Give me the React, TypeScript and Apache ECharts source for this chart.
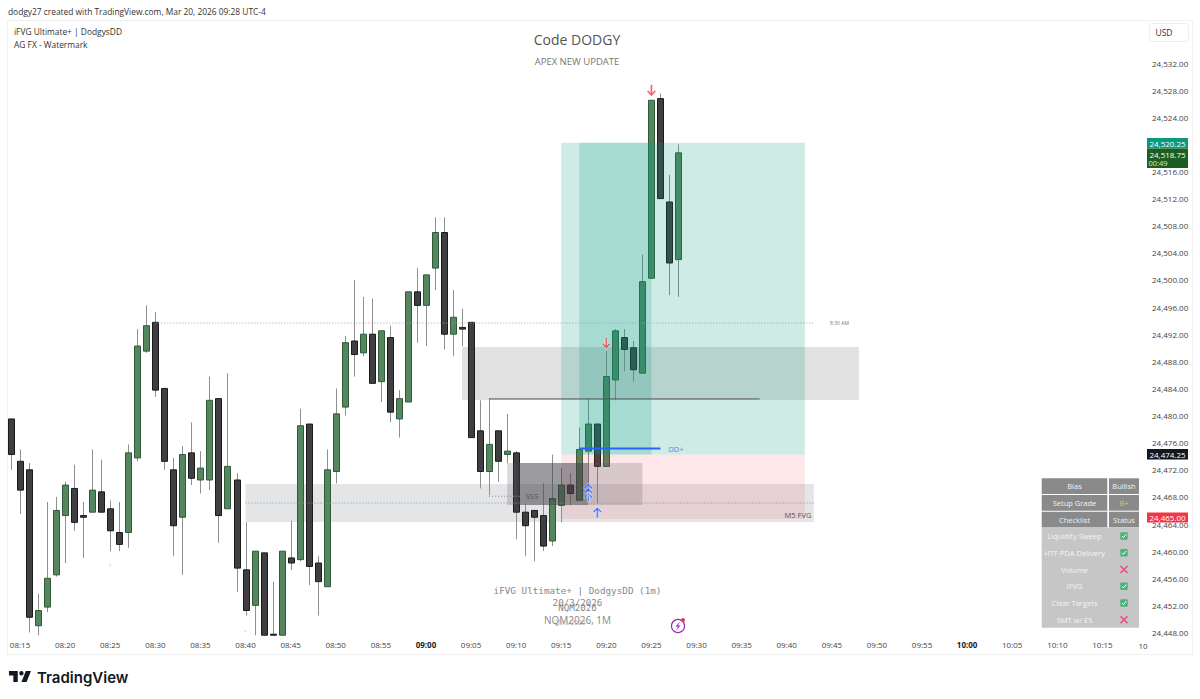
import React, { useEffect, useRef } from "react";
import * as echarts from "echarts";

// ---- candles (index 0 = 08:14, one per minute) ----
const opens = [24479.5,24473.25,24472,24449,24451.75,24456.5,24465.25,24469.25,24465.25,24465.75,24468.75,24466.25,24462.75,24462.75,24473.75,24489.5,24493.75,24484,24472,24465,24474.5,24470.5,24470.5,24482.5,24466.25,24470.5,24457.25,24452,24459.75,24447.75,24447.6,24459,24458.75,24478.75,24458.25,24454.75,24471.75,24481.25,24491,24489.25,24492,24485,24491.5,24479.5,24482,24498.25,24496.25,24501.75,24507,24492,24493,24493.75,24477.75,24471.75,24477.75,24474.25,24474.5,24465.75,24466,24465.25,24461.5,24466.75,24469.75,24467.5,24474.75,24478.75,24472.5,24485.25,24491.5,24490,24486.25,24500.25,24526.75,24511.5,24503];
const closes = [24474.25,24469,24450.25,24451.25,24456,24466,24469.75,24464.25,24465,24469,24465.75,24463,24461,24474.5,24490.25,24493.25,24483.75,24473.25,24463.75,24474.25,24470.75,24472.25,24482.25,24465.25,24472.5,24457.5,24451.25,24460,24447.6,24447.6,24460,24458.25,24478.5,24457.75,24455.5,24472,24480.25,24490.75,24489,24492,24484.75,24492.5,24480.5,24482.5,24498.25,24496.25,24500.75,24507,24492,24494.5,24492.75,24476.75,24471.75,24475.75,24473.25,24474.75,24465.75,24463.75,24465,24460.75,24467.75,24469.75,24468.5,24475,24478.75,24472.5,24485.75,24492.5,24489.75,24486.75,24499.75,24526.5,24512,24502.5,24518.75];
const highs = [24479.5,24475,24473,24453.75,24467.25,24468,24470.25,24472.75,24467.25,24475,24473.5,24467.5,24467.25,24475.75,24492.75,24496.25,24495.25,24484,24473.75,24475.5,24479,24474.75,24485.75,24482.5,24486.25,24471.5,24464.25,24460,24459.75,24455.5,24460,24464.5,24481,24478.75,24459.25,24475,24484,24491.75,24500,24497.5,24497.25,24492.5,24493.25,24483.75,24498.25,24501.75,24500.75,24509.25,24509.25,24498.5,24495.75,24493.75,24482.25,24482.5,24477.75,24480.25,24474.75,24467,24466,24470,24474.25,24472.25,24471.5,24478.25,24482.5,24478.75,24489.5,24492.75,24492.75,24491,24503.75,24526.5,24527.5,24515.5,24520];
const lows = [24472,24465.5,24448,24447.6,24451,24456.25,24458.25,24463,24459,24465.75,24465.75,24460,24460,24460.5,24473.25,24489.25,24482.75,24472,24459.25,24456.5,24469.75,24468.5,24469,24461.25,24466.25,24454,24450.5,24447.6,24447.6,24447.6,24447.6,24457.25,24458.5,24455,24450.5,24454.75,24470,24480,24485.75,24488.75,24484.75,24482,24479,24476.75,24482,24490.75,24490.25,24498.5,24489.75,24488.75,24490.25,24476.75,24469.25,24468.25,24470.25,24473,24461.75,24459.25,24458.5,24460,24460.75,24464.25,24466.75,24467.5,24469,24467,24472.5,24482.25,24486.5,24485,24486.25,24500.25,24512,24497.75,24497.5];

// ---- shaded zones: [first bar, last bar, top price, bottom price] ----
const grayBands = [
  [26, 89, 24469.9, 24464.3],
  [50, 94, 24490.1, 24482.3],
];
const positionZones = [
  [61, 88, 24520.25, 24474.25],
  [63, 71, 24520.25, 24474.25],
  [61, 88, 24474.25, 24464.75],
  [55, 70, 24473, 24466.8],
  [56, 64, 24473, 24466.8],
];
const positionColors = [
  "rgba(8,153,129,0.2)",
  "rgba(8,153,129,0.2)",
  "rgba(242,54,69,0.12)",
  "rgba(90,90,100,0.22)",
  "rgba(50,50,60,0.38)",
];

// ---- levels ----
const levelDotted830 = [[16, 24493.65], [89, 24493.65]];
const levelDottedFvg = [[26, 24467.1], [89, 24467.1]];
const levelSweep = [[53, 24468.1], [58, 24468.1]];
const levelSolid = [[53, 24482.45], [83, 24482.45]];
const levelDD = [[63, 24475.15], [72, 24475.15]];

// ---- arrows: [bar, price] ----
const redArrows = [[71, 24527.95], [66, 24490.7]];
const blueArrows = [[65, 24465.7]];
const tripleArrows = [[64, 24468.65]];
const yellowDots = [[11, 24457.9], [26, 24448.2]];

// ---- axis labels and tags ----
const startMinute = 8 * 60 + 14;
const barCount = 126;
const timeLabels = Array.from({ length: barCount }, (_, i) => {
  const m = startMinute + i;
  return String(Math.floor(m / 60)).padStart(2, "0") + ":" + String(m % 60).padStart(2, "0");
});
const boldTimes = ["09:00", "10:00"];
const hiddenPrices = [24536, 24540, 24520];

// ---- checklist table ----
const headerRows = [["Bias", "Bullish"], ["Setup Grade", "B+"], ["Checklist", "Status"]];
const checkLabels = ["Liquidity Sweep", "HTF PDA Delivery", "Volume", "IFVG", "Clear Targets", "SMT w/ ES"];
const checkPassed = [true, true, false, true, true, false];

const logoPath = "M14 6H2v6h6v9h6V6zm12 15h-7l6-15h7l-6 15zm-7-9a3 3 0 1 0 0-6 3 3 0 0 0 0 6z";
echarts.graphic.registerShape("tvlogo", echarts.graphic.extendPath(logoPath, {}));

const FONT = '"Open Sans", sans-serif';
const MONO = '"DejaVu Sans Mono", monospace';
const DOWN_ARROW = "path://M3.8 0 H6.2 V8.4 L8.8 5.8 L10.2 7.3 L5 12.4 L-0.2 7.3 L1.2 5.8 L3.8 8.4 Z";
const TRIPLE_ARROW = "path://M5 0 L10 4.6 L8.8 6 L5 2.6 L1.2 6 L0 4.6 Z M5 4.4 L10 9 L8.8 10.4 L6 7.9 V18 H4 V7.9 L1.2 10.4 L0 9 Z M5 8.8 L10 13.4 L8.8 14.8 L6 12.3 V12 H4 V12.3 L1.2 14.8 L0 13.4 Z";

const PPX = 6.78;
const priceY = (p: number) => 63 + (24532 - p) * PPX;
const GRID_LEFT = 6.5;
const BAR = 9.02;
const GRID_TOP = priceY(24540);
const GRID_H = priceY(24448) - GRID_TOP;

function text(x: number, y: number, t: string, size: number, fill: string, align = "center", extra: any = {}) {
  return {
    type: "text", x, y, z: 50,
    style: { text: t, fontSize: size, fill, align, verticalAlign: "middle", fontFamily: FONT, ...extra },
  };
}
function box(x: number, y: number, w: number, h: number, fill: string, z = 40) {
  return { type: "rect", x, y, z, shape: { x: 0, y: 0, width: w, height: h }, style: { fill } };
}

function zoneSeries(rows: number[][], colors: string[], z: number) {
  return {
    type: "custom", z, silent: true,
    data: rows,
    encode: { x: [0, 1], y: [2, 3] },
    renderItem: (params: any, api: any) => {
      const a = api.coord([api.value(0), api.value(2)]);
      const b = api.coord([api.value(1), api.value(3)]);
      return {
        type: "rect",
        shape: { x: a[0], y: a[1], width: b[0] - a[0], height: b[1] - a[1] },
        style: { fill: colors[params.dataIndex] },
      };
    },
  };
}
function levelSeries(data: number[][], color: string, type: any, width = 1) {
  return {
    type: "line", z: 4, data, symbol: "none", silent: true,
    lineStyle: { color, type, width },
  };
}

export default function App() {
  const ref = useRef<HTMLDivElement>(null);
  useEffect(() => {
    const chart = echarts.init(ref.current!, null, { renderer: "svg" });
    const candleRows = opens.map((o, i) => [i, o, closes[i], lows[i], highs[i]]);

    const graphics: any[] = [
      { type: "rect", z: 0, x: 7.5, y: 20.5, shape: { x: 0, y: 0, width: 1185, height: 634 }, style: { fill: "none", stroke: "#f0f0f0", lineWidth: 1 } },
      text(8, 11, "dodgy27 created with TradingView.com, Mar 20, 2026 09:28 UTC-4", 8.4, "#333", "left"),
      text(14, 31, "iFVG Ultimate+ | DodgysDD", 8.4, "#333", "left"),
      text(14, 44, "AG FX - Watermark", 8.4, "#333", "left"),
      text(577, 39, "Code DODGY", 14, "#555", "center"),
      text(577, 61, "APEX NEW UPDATE", 9.5, "#777", "center"),
      text(577.5, 590, "iFVG Ultimate+ | DodgysDD (1m)", 9.3, "#888", "center", { fontFamily: MONO }),
      text(577.5, 602, "20/3/2026", 9.2, "#888", "center", { fontFamily: MONO }),
      text(577.5, 607, "NQM2026", 9.2, "#888", "center", { fontFamily: MONO }),
      text(577.5, 620, "NQM2026, 1M", 10, "#888", "center"),
      text(570, 622, "20/3/2026", 6.5, "#aaa", "center"),
      text(1143, 645, "10", 8, "#444", "center"),
      text(532, 495, "SSS", 8, "#555", "center"),
      text(798, 515, "M5 FVG", 7.5, "#555", "center"),
      text(839.5, 323, "8:30 AM", 5, "#777", "center"),
      text(676, 449, "DD+", 7.5, "#5b87e8", "center"),
      // USD box
      { type: "rect", z: 40, x: 1149.5, y: 23.5, shape: { x: 0, y: 0, width: 39, height: 18, r: 3 }, style: { fill: "#fff", stroke: "#eeeeee", lineWidth: 1 } },
      text(1164, 32.5, "USD", 8.5, "#333"),
      // price tags
      box(1147, 138, 41, 10.5, "#089981"),
      text(1167.5, 143.5, "24,520.25", 8, "#fff"),
      box(1147, 148.5, 41, 19.5, "#1b5e20"),
      text(1167.5, 154, "24,518.75", 8, "#fff"),
      text(1158, 163, "00:49", 7.5, "#d5e8d5"),
      box(1147, 449, 41, 10.5, "#131722"),
      text(1167.5, 454.5, "24,474.25", 8, "#fff"),
      box(1147, 512.5, 41, 10, "#f23645"),
      text(1167.5, 517.5, "24,465.00", 8, "#fff"),
      // footer logo
      { type: "tvlogo", z: 40, x: 7.5, y: 666.6, scaleX: 0.733, scaleY: 0.733, style: { fill: "#131722" } },
      text(37, 677, "TradingView", 15, "#131722", "left", { fontFamily: "Inter, sans-serif", fontWeight: 600 }),
      // bolt icon
      { type: "circle", z: 40, shape: { cx: 678, cy: 626, r: 6.5 }, style: { fill: "#fff", stroke: "#9c27b0", lineWidth: 1.2 } },
      { type: "polygon", z: 41, shape: { points: [[680, 621.5], [675.5, 626.5], [678, 626.5], [676, 630.5], [680.5, 625.5], [678, 625.5]] }, style: { fill: "#9c27b0" } },
      { type: "circle", z: 42, shape: { cx: 683, cy: 620, r: 2 }, style: { fill: "#f23645" } },
    ];

    // checklist table
    const colL = 1041.7, colLW = 65.6, colR = 1109, colRW = 30;
    const headY = [478.3, 495, 511.7];
    headerRows.forEach((r, i) => {
      graphics.push(box(colL, headY[i], colLW, 15.7, "#8a8a8a"));
      graphics.push(box(colR, headY[i], colRW, 15.7, "#8a8a8a"));
      graphics.push(text(colL + colLW / 2, headY[i] + 8, r[0], 7.5, "#f2f2f2"));
      graphics.push(text(colR + colRW / 2, headY[i] + 8, r[1], 7.5, r[1] === "B+" ? "#e3c24a" : "#f2f2f2"));
    });
    graphics.push(box(colL, 527.4, colRW + colLW + 1.7, 100.3, "#c6c6c6"));
    checkLabels.forEach((label, i) => {
      const cy = 536 + i * 16.75;
      graphics.push(text(colL + colLW / 2, cy, label, 7.5, "#f5f5f5"));
      const cx = 1124;
      if (checkPassed[i]) {
        graphics.push({ type: "rect", z: 41, x: cx - 3.7, y: cy - 3.7, shape: { x: 0, y: 0, width: 7.4, height: 7.4, r: 1 }, style: { fill: "#4cb27c" } });
        graphics.push({ type: "polyline", z: 42, shape: { points: [[cx - 2, cy], [cx - 0.5, cy + 1.7], [cx + 2.2, cy - 1.8]] }, style: { stroke: "#fff", lineWidth: 1, fill: "none" } });
      } else {
        graphics.push({ type: "line", z: 42, shape: { x1: cx - 3.5, y1: cy - 3.5, x2: cx + 3.5, y2: cy + 3.5 }, style: { stroke: "#e9557f", lineWidth: 1.7 } });
        graphics.push({ type: "line", z: 42, shape: { x1: cx + 3.5, y1: cy - 3.5, x2: cx - 3.5, y2: cy + 3.5 }, style: { stroke: "#e9557f", lineWidth: 1.7 } });
      }
    });

    chart.setOption({
      animation: false,
      backgroundColor: "#ffffff",
      textStyle: { fontFamily: FONT },
      grid: { left: GRID_LEFT, top: GRID_TOP, width: BAR * barCount, height: GRID_H, containLabel: false },
      xAxis: {
        type: "category",
        data: timeLabels,
        boundaryGap: true,
        axisLine: { show: false },
        axisTick: { show: false },
        splitLine: { show: false },
        axisLabel: {
          interval: (_: number, v: string) => Number(v.slice(3)) % 5 === 0,
          margin: 8,
          fontSize: 8,
          color: "#444",
          fontFamily: FONT,
          hideOverlap: false,
          formatter: (v: string) => (boldTimes.includes(v) ? "{b|" + v + "}" : v),
          rich: { b: { fontSize: 8, fontWeight: 700, color: "#222", fontFamily: FONT } },
        },
      },
      yAxis: {
        type: "value",
        position: "right",
        min: 24448,
        max: 24540,
        interval: 4,
        scale: true,
        axisLine: { show: false },
        axisTick: { show: false },
        splitLine: { show: false },
        axisLabel: {
          margin: 9,
          fontSize: 8,
          color: "#444",
          fontFamily: FONT,
          showMinLabel: true,
          showMaxLabel: true,
          formatter: (v: number) =>
            hiddenPrices.includes(v)
              ? ""
              : v.toLocaleString("en-US", { minimumFractionDigits: 2, maximumFractionDigits: 2 }),
        },
      },
      graphic: graphics,
      series: [
        { ...zoneSeries(grayBands, ["rgba(120,123,134,0.2)", "rgba(120,120,120,0.22)"], 1) },
        {
          type: "custom", z: 2, silent: true,
          data: candleRows,
          encode: { x: 0, y: [1, 2, 3, 4] },
          renderItem: (_p: any, api: any) => {
            const i = api.value(0);
            const o = api.value(1), c = api.value(2), l = api.value(3), h = api.value(4);
            const x = Math.round(api.coord([i, o])[0]) + 0.5;
            const top = api.coord([i, Math.max(o, c)])[1];
            const bot = api.coord([i, Math.min(o, c)])[1];
            const hi = api.coord([i, h])[1];
            const lo = api.coord([i, l])[1];
            const up = c >= o;
            return {
              type: "group",
              children: [
                { type: "line", shape: { x1: x, y1: hi, x2: x, y2: lo }, style: { stroke: "#8f8f8f", lineWidth: 1 } },
                {
                  type: "rect",
                  shape: { x: x - 3, y: top, width: 6, height: Math.max(bot - top, 1) },
                  style: { fill: up ? "#56865f" : "#3f3f42", stroke: up ? "#2f5a38" : "#1a1a1a", lineWidth: 1 },
                },
              ],
            };
          },
        },
        { ...zoneSeries(positionZones, positionColors, 3) },
        levelSeries(levelDotted830, "#a0a0a0", [1, 2]),
        levelSeries(levelDottedFvg, "#909090", [1, 2]),
        levelSeries(levelSweep, "#909090", [1, 2]),
        levelSeries(levelSolid, "#555555", "solid"),
        levelSeries(levelDD, "#2962ff", "solid", 2),
        {
          type: "scatter", z: 6, silent: true, data: redArrows,
          symbol: DOWN_ARROW, symbolSize: [9, 12],
          itemStyle: { color: "#f23645", borderColor: "#ffffff", borderWidth: 0.6 },
        },
        {
          type: "scatter", z: 6, silent: true, data: blueArrows,
          symbol: DOWN_ARROW, symbolSize: [9, 11], symbolRotate: 180,
          itemStyle: { color: "#2962ff", borderColor: "#ffffff", borderWidth: 0.6 },
        },
        {
          type: "scatter", z: 6, silent: true, data: tripleArrows,
          symbol: TRIPLE_ARROW, symbolSize: [9, 19],
          itemStyle: { color: "#2962ff", borderColor: "#ffffff", borderWidth: 0.6 },
        },
        {
          type: "scatter", z: 6, silent: true, data: yellowDots,
          symbol: "circle", symbolSize: 2.5,
          itemStyle: { color: "#f0e9a0" },
        },
      ],
    });
    return () => chart.dispose();
  }, []);
  return <div ref={ref} style={{ position: "absolute", left: 0, top: 0, width: 1200, height: 699 }} />;
}
